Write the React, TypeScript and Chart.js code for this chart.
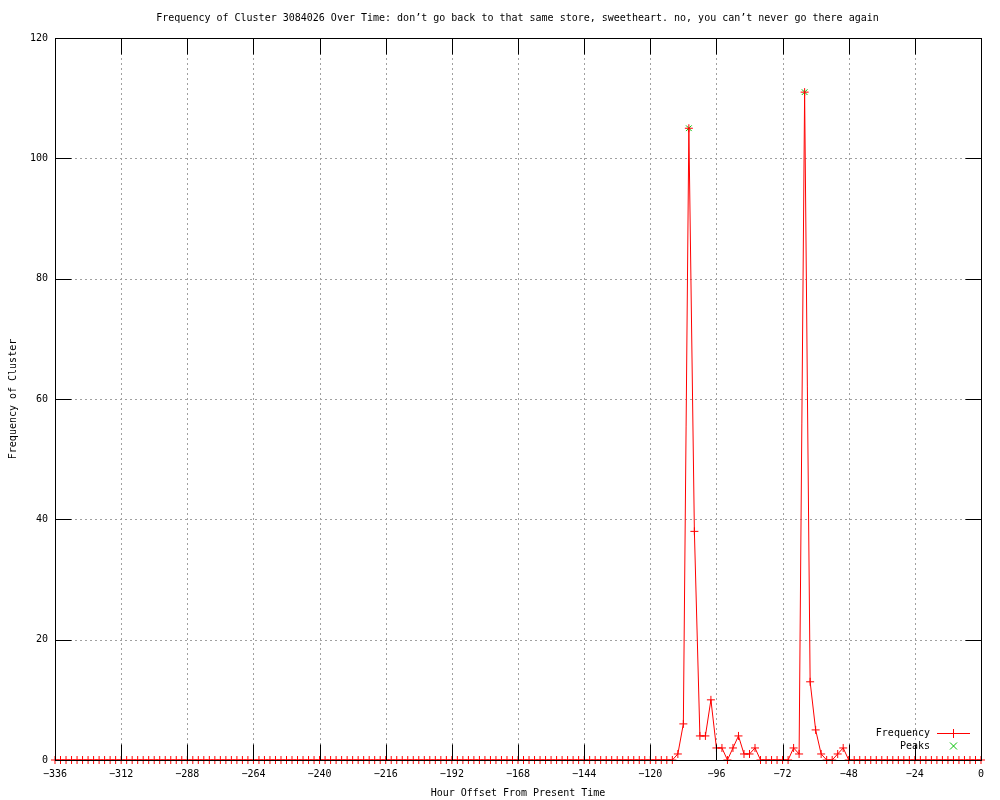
import React, { useEffect, useRef } from "react";
import { Chart, registerables } from "chart.js";

Chart.register(...registerables);

const TITLE =
  "Frequency of Cluster 3084026 Over Time: don\u2019t go back to that same store, sweetheart. no, you can\u2019t never go there again";
const X_TITLE = "Hour Offset From Present Time";
const Y_TITLE = "Frequency of Cluster";

const hours: number[] = [
  -336, -334, -332, -330, -328, -326, -324, -322, -320, -318, -316, -314, -312, -310, -308, -306, -304, -302, -300, -298,
  -296, -294, -292, -290, -288, -286, -284, -282, -280, -278, -276, -274, -272, -270, -268, -266, -264, -262, -260, -258,
  -256, -254, -252, -250, -248, -246, -244, -242, -240, -238, -236, -234, -232, -230, -228, -226, -224, -222, -220, -218,
  -216, -214, -212, -210, -208, -206, -204, -202, -200, -198, -196, -194, -192, -190, -188, -186, -184, -182, -180, -178,
  -176, -174, -172, -170, -168, -166, -164, -162, -160, -158, -156, -154, -152, -150, -148, -146, -144, -142, -140, -138,
  -136, -134, -132, -130, -128, -126, -124, -122, -120, -118, -116, -114, -112, -110, -108, -106, -104, -102, -100, -98,
  -96, -94, -92, -90, -88, -86, -84, -82, -80, -78, -76, -74, -72, -70, -68, -66, -64, -62, -60, -58,
  -56, -54, -52, -50, -48, -46, -44, -42, -40, -38, -36, -34, -32, -30, -28, -26, -24, -22, -20, -18,
  -16, -14, -12, -10, -8, -6, -4, -2, 0,
];

const frequency: number[] = [
  0, 0, 0, 0, 0, 0, 0, 0, 0, 0, 0, 0, 0, 0, 0, 0, 0, 0, 0, 0,
  0, 0, 0, 0, 0, 0, 0, 0, 0, 0, 0, 0, 0, 0, 0, 0, 0, 0, 0, 0,
  0, 0, 0, 0, 0, 0, 0, 0, 0, 0, 0, 0, 0, 0, 0, 0, 0, 0, 0, 0,
  0, 0, 0, 0, 0, 0, 0, 0, 0, 0, 0, 0, 0, 0, 0, 0, 0, 0, 0, 0,
  0, 0, 0, 0, 0, 0, 0, 0, 0, 0, 0, 0, 0, 0, 0, 0, 0, 0, 0, 0,
  0, 0, 0, 0, 0, 0, 0, 0, 0, 0, 0, 0, 0, 1, 6, 105, 38, 4, 4, 10,
  2, 2, 0, 2, 4, 1, 1, 2, 0, 0, 0, 0, 0, 0, 2, 1, 111, 13, 5, 1,
  0, 0, 1, 2, 0, 0, 0, 0, 0, 0, 0, 0, 0, 0, 0, 0, 0, 0, 0, 0,
  0, 0, 0, 0, 0, 0, 0, 0, 0,
];

const peakHours: number[] = [-106, -64];
const peakValues: number[] = [105, 111];

const xTicks: number[] = [-336, -312, -288, -264, -240, -216, -192, -168, -144, -120, -96, -72, -48, -24, 0];
const yTicks: number[] = [0, 20, 40, 60, 80, 100, 120];

const FONT = "10px 'DejaVu Sans Mono', monospace";
const RED = "#ff0000";
const GREEN = "#00c000";

const gnuplotPlugin = {
  id: "gnuplotDecor",
  beforeDatasetsDraw(chart: any) {
    const { ctx, chartArea: a, scales } = chart;
    const xs = scales.x;
    const ys = scales.y;
    ctx.save();
    ctx.strokeStyle = "#a0a0a0";
    ctx.lineWidth = 1;
    ctx.setLineDash([2, 3]);
    xTicks.forEach((t) => {
      if (t === xTicks[0] || t === xTicks[xTicks.length - 1]) return;
      const px = Math.round(xs.getPixelForValue(t)) + 0.5;
      ctx.beginPath();
      ctx.moveTo(px, a.top);
      ctx.lineTo(px, a.bottom);
      ctx.stroke();
    });
    yTicks.forEach((t) => {
      if (t === yTicks[0] || t === yTicks[yTicks.length - 1]) return;
      const py = Math.round(ys.getPixelForValue(t)) + 0.5;
      ctx.beginPath();
      ctx.moveTo(a.left, py);
      ctx.lineTo(a.right, py);
      ctx.stroke();
    });
    ctx.restore();
  },
  afterDatasetsDraw(chart: any) {
    const { ctx, chartArea: a, scales } = chart;
    const xs = scales.x;
    const ys = scales.y;
    const L = Math.round(a.left) + 0.5;
    const R = Math.round(a.right) + 0.5;
    const T = Math.round(a.top) + 0.5;
    const B = Math.round(a.bottom) + 0.5;
    ctx.save();
    ctx.setLineDash([]);
    ctx.strokeStyle = "#000000";
    ctx.lineWidth = 1;
    ctx.strokeRect(L, T, R - L, B - T);
    const tl = 16;
    ctx.beginPath();
    xTicks.forEach((t) => {
      const px = Math.round(xs.getPixelForValue(t)) + 0.5;
      ctx.moveTo(px, B);
      ctx.lineTo(px, B - tl);
      ctx.moveTo(px, T);
      ctx.lineTo(px, T + tl);
    });
    yTicks.forEach((t) => {
      const py = Math.round(ys.getPixelForValue(t)) + 0.5;
      ctx.moveTo(L, py);
      ctx.lineTo(L + tl, py);
      ctx.moveTo(R, py);
      ctx.lineTo(R - tl, py);
    });
    ctx.stroke();
    ctx.restore();
  },
  afterDraw(chart: any) {
    const { ctx, chartArea: a } = chart;
    ctx.save();
    ctx.setLineDash([]);
    ctx.font = FONT;
    ctx.fillStyle = "#000000";
    ctx.textBaseline = "middle";
    ctx.textAlign = "center";
    ctx.fillText(TITLE, 517.5, 18);
    ctx.fillText(X_TITLE, (a.left + a.right) / 2, 793);
    ctx.save();
    ctx.translate(13, (a.top + a.bottom) / 2);
    ctx.rotate(-Math.PI / 2);
    ctx.fillText(Y_TITLE, 0, 0);
    ctx.restore();

    // legend
    ctx.textAlign = "right";
    ctx.fillText("Frequency", 930, 733);
    ctx.fillText("Peaks", 930, 746);
    ctx.fillStyle = RED;
    ctx.fillRect(937, 733, 33, 1);
    ctx.fillRect(953, 729, 1, 9);
    ctx.strokeStyle = GREEN;
    ctx.lineWidth = 1;
    ctx.beginPath();
    ctx.moveTo(950, 742.5);
    ctx.lineTo(957, 749.5);
    ctx.moveTo(957, 742.5);
    ctx.lineTo(950, 749.5);
    ctx.stroke();
    ctx.restore();
  },
};

export default function App() {
  const ref = useRef<HTMLCanvasElement | null>(null);

  useEffect(() => {
    document.body.style.margin = "0";
    const canvas = ref.current;
    if (!canvas) return;
    const freqData = hours.map((h, i) => ({ x: h, y: frequency[i] }));
    const peakData = peakHours.map((h, i) => ({ x: h, y: peakValues[i] }));
    const chart = new Chart(canvas, {
      type: "line",
      data: {
        datasets: [
          {
            label: "Frequency",
            data: freqData,
            borderColor: RED,
            backgroundColor: RED,
            borderWidth: 1,
            pointStyle: "cross",
            pointRadius: 4,
            pointBorderColor: RED,
            pointBorderWidth: 1,
            tension: 0,
            clip: false as any,
          },
          {
            label: "Peaks",
            data: peakData,
            showLine: false,
            borderColor: GREEN,
            backgroundColor: GREEN,
            pointStyle: "crossRot",
            pointRadius: 4,
            pointBorderColor: GREEN,
            pointBorderWidth: 1,
            clip: false as any,
          },
        ],
      },
      options: {
        responsive: false,
        animation: false,
        devicePixelRatio: 1,
        layout: { padding: { top: 38, right: 19, left: 0, bottom: 0 } },
        plugins: {
          legend: { display: false },
          title: { display: false },
          tooltip: { enabled: false },
        },
        scales: {
          x: {
            type: "linear",
            min: -336,
            max: 0,
            afterFit: (s: any) => {
              s.height = 40;
            },
            afterBuildTicks: (s: any) => {
              s.ticks = xTicks.map((v) => ({ value: v }));
            },
            grid: { display: false, drawTicks: false },
            border: { display: false },
            ticks: {
              color: "#000000",
              font: { family: "'DejaVu Sans Mono', monospace", size: 10 },
              padding: 8,
              maxRotation: 0,
              autoSkip: false,
              callback: (v: any) => String(v).replace("-", "\u2212"),
            },
          },
          y: {
            type: "linear",
            min: 0,
            max: 120,
            afterFit: (s: any) => {
              s.width = 55;
            },
            afterBuildTicks: (s: any) => {
              s.ticks = yTicks.map((v) => ({ value: v }));
            },
            grid: { display: false, drawTicks: false },
            border: { display: false },
            ticks: {
              color: "#000000",
              font: { family: "'DejaVu Sans Mono', monospace", size: 10 },
              padding: 7,
              autoSkip: false,
              callback: (v: any) => String(v),
            },
          },
        },
      },
      plugins: [gnuplotPlugin],
    });
    return () => chart.destroy();
  }, []);

  return <canvas ref={ref} width={1000} height={800} style={{ display: "block" }} />;
}
